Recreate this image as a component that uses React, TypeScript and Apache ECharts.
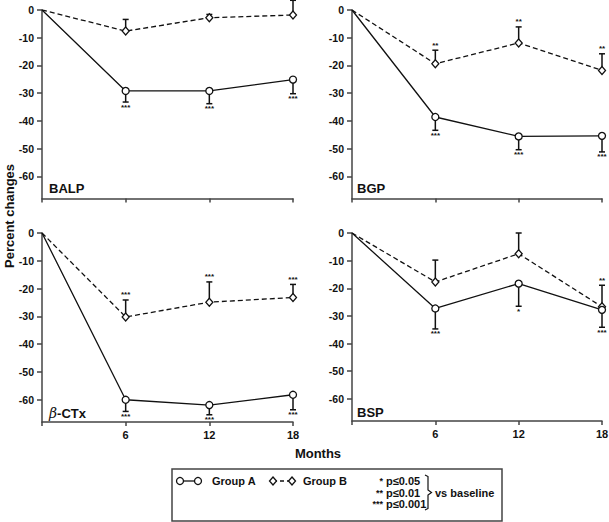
import React, { useEffect, useRef } from "react";
import * as echarts from "echarts";

const months = [0, 6, 12, 18];
const yTicks = [0, -10, -20, -30, -40, -50, -60];
const panelNames = ["BALP", "BGP", "β-CTx", "BSP"];

const balpA = [0, -29.2, -29.2, -25.1];
const balpAErr = [null, -33.2, -33.8, -30.2];
const balpAStars = ["", "***", "***", "***"];
const balpB = [0, -7.6, -2.8, -1.8];
const balpBErr = [null, -3.4, -1.6, 3.5];
const balpBStars = ["", "", "", ""];

const bgpA = [0, -38.6, -45.6, -45.4];
const bgpAErr = [null, -43.4, -50.4, -51.2];
const bgpAStars = ["", "***", "***", "***"];
const bgpB = [0, -19.4, -11.9, -21.8];
const bgpBErr = [null, -14.5, -6.1, -15.8];
const bgpBStars = ["", "**", "**", "**"];

const ctxA = [0, -60.0, -61.9, -58.2];
const ctxAErr = [null, -64.2, -65.4, -63.6];
const ctxAStars = ["", "***", "***", "***"];
const ctxB = [0, -30.2, -24.9, -23.2];
const ctxBErr = [null, -24.1, -17.6, -18.5];
const ctxBStars = ["", "***", "***", "***"];

const bspA = [0, -27.3, -18.3, -27.8];
const bspAErr = [null, -34.7, -26.5, -34.1];
const bspAStars = ["", "***", "*", "***"];
const bspB = [0, -17.7, -7.5, -26.7];
const bspBErr = [null, -9.8, 0, -18.9];
const bspBStars = ["", "", "", "**"];

const legendStars = ["*", "**", "***"];
const legendP = ["p≤0.05", "p≤0.01", "p≤0.001"];

const panels = [
  { a: balpA, aErr: balpAErr, aStars: balpAStars, b: balpB, bErr: balpBErr, bStars: balpBStars },
  { a: bgpA, aErr: bgpAErr, aStars: bgpAStars, b: bgpB, bErr: bgpBErr, bStars: bgpBStars },
  { a: ctxA, aErr: ctxAErr, aStars: ctxAStars, b: ctxB, bErr: ctxBErr, bStars: ctxBStars },
  { a: bspA, aErr: bspAErr, aStars: bspAStars, b: bspB, bErr: bspBErr, bStars: bspBStars },
];

const FONT = "'Liberation Sans', Arial, Helvetica, sans-serif";
const AXIS_COLOR = "#444";

const grids = [
  { left: 42, top: 10, width: 251, height: 188.5 },
  { left: 352, top: 10, width: 250, height: 188.5 },
  { left: 42, top: 233, width: 251, height: 189 },
  { left: 352, top: 233, width: 250, height: 188 },
];
const labelPos = [
  [49, 188],
  [357, 188],
  [49, 413],
  [357, 412],
];

function errRender(stars: string[]) {
  return (params: any, api: any) => {
    const err = api.value(2);
    if (err === null || err === undefined || isNaN(err)) return null;
    const p0 = api.coord([api.value(0), api.value(1)]);
    const p1 = api.coord([api.value(0), err]);
    const dir = p1[1] > p0[1] ? 1 : -1;
    const s = stars[params.dataIndex + 1] || "";
    return {
      type: "group",
      children: [
        { type: "line", shape: { x1: p0[0], y1: p0[1], x2: p1[0], y2: p1[1] }, style: { stroke: "#111", lineWidth: 1.5 } },
        { type: "line", shape: { x1: p1[0] - 3, y1: p1[1], x2: p1[0] + 3, y2: p1[1] }, style: { stroke: "#111", lineWidth: 1.5 } },
        {
          type: "text",
          style: {
            text: s,
            x: p1[0],
            y: p1[1] + dir * 5,
            fill: "#111",
            font: `bold 8px ${FONT}`,
            align: "center",
            verticalAlign: "middle",
          },
        },
      ],
    };
  };
}

export default function App() {
  const ref = useRef<HTMLDivElement>(null);
  useEffect(() => {
    document.body.style.margin = "0";
    if (!ref.current) return;
    const chart = echarts.init(ref.current, null, { renderer: "svg" });

    const series: any[] = [];
    panels.forEach((p, i) => {
      const lineData = (vals: number[]) =>
        months.map((m, k) => (k === 0 ? { value: [m, vals[k]], symbol: "none" } : { value: [m, vals[k]] }));
      const errData = (vals: number[], errs: (number | null)[]) =>
        months.slice(1).map((m, k) => [m, vals[k + 1], errs[k + 1]]);
      series.push({
        type: "custom",
        xAxisIndex: i,
        yAxisIndex: i,
        clip: false,
        z: 1,
        encode: { x: 0, y: 1 },
        data: errData(p.a, p.aErr),
        renderItem: errRender(p.aStars),
      });
      series.push({
        type: "custom",
        xAxisIndex: i,
        yAxisIndex: i,
        clip: false,
        z: 1,
        encode: { x: 0, y: 1 },
        data: errData(p.b, p.bErr),
        renderItem: errRender(p.bStars),
      });
      series.push({
        type: "line",
        name: "Group B",
        xAxisIndex: i,
        yAxisIndex: i,
        z: 3,
        data: lineData(p.b),
        symbol: "diamond",
        symbolSize: [7, 8],
        showAllSymbol: true,
        lineStyle: { color: "#111", width: 1.3, type: [5, 3] },
        itemStyle: { color: "#fff", borderColor: "#111", borderWidth: 1.3 },
      });
      series.push({
        type: "line",
        name: "Group A",
        xAxisIndex: i,
        yAxisIndex: i,
        z: 4,
        data: lineData(p.a),
        symbol: "circle",
        symbolSize: 7,
        showAllSymbol: true,
        lineStyle: { color: "#111", width: 1.3 },
        itemStyle: { color: "#fff", borderColor: "#111", borderWidth: 1.3 },
      });
    });

    const graphics: any[] = [];
    panelNames.forEach((n, i) => {
      if (n.startsWith("β")) {
        graphics.push({
          type: "text",
          x: labelPos[i][0],
          y: labelPos[i][1],
          style: {
            text: "{g|β}{t|-CTx}",
            verticalAlign: "middle",
            rich: {
              g: { font: `italic 14px 'DejaVu Serif', serif`, fill: "#111" },
              t: { font: `bold 13px ${FONT}`, fill: "#111" },
            },
          },
        });
      } else {
        graphics.push({
          type: "text",
          x: labelPos[i][0],
          y: labelPos[i][1],
          style: { text: n, font: `bold 13px ${FONT}`, fill: "#111", verticalAlign: "middle" },
        });
      }
    });
    graphics.push({
      type: "text",
      x: 9,
      y: 216,
      rotation: Math.PI / 2,
      style: { text: "Percent changes", font: `bold 13px ${FONT}`, fill: "#111", align: "center", verticalAlign: "middle" },
    });
    graphics.push({
      type: "text",
      x: 318,
      y: 453,
      style: { text: "Months", font: `bold 13px ${FONT}`, fill: "#111", align: "center", verticalAlign: "middle" },
    });
    // legend box
    const ly = 481;
    graphics.push({
      type: "rect",
      shape: { x: 172, y: 469, width: 330, height: 52 },
      style: { fill: "none", stroke: AXIS_COLOR, lineWidth: 1.5 },
    });
    graphics.push({ type: "line", shape: { x1: 180, y1: ly, x2: 198, y2: ly }, style: { stroke: "#111", lineWidth: 1.3 } });
    graphics.push({ type: "circle", shape: { cx: 180, cy: ly, r: 3.5 }, style: { fill: "#fff", stroke: "#111", lineWidth: 1.3 } });
    graphics.push({ type: "circle", shape: { cx: 198, cy: ly, r: 3.5 }, style: { fill: "#fff", stroke: "#111", lineWidth: 1.3 } });
    graphics.push({
      type: "text",
      x: 212,
      y: ly,
      style: { text: "Group A", font: `bold 11px ${FONT}`, fill: "#111", verticalAlign: "middle" },
    });
    graphics.push({ type: "line", shape: { x1: 273, y1: ly, x2: 292, y2: ly }, style: { stroke: "#111", lineWidth: 1.3, lineDash: [4, 3] } });
    [273, 292].forEach((cx) => {
      graphics.push({
        type: "polygon",
        shape: { points: [[cx, ly - 4], [cx + 3.5, ly], [cx, ly + 4], [cx - 3.5, ly]] },
        style: { fill: "#fff", stroke: "#111", lineWidth: 1.3 },
      });
    });
    graphics.push({
      type: "text",
      x: 303,
      y: ly,
      style: { text: "Group B", font: `bold 11px ${FONT}`, fill: "#111", verticalAlign: "middle" },
    });
    legendStars.forEach((s, k) => {
      const y = ly + k * 11.5;
      graphics.push({
        type: "text",
        x: 383,
        y: y,
        style: { text: s, font: `bold 9px ${FONT}`, fill: "#111", align: "right", verticalAlign: "middle" },
      });
      graphics.push({
        type: "text",
        x: 386,
        y: y,
        style: { text: legendP[k], font: `bold 11px ${FONT}`, fill: "#111", verticalAlign: "middle" },
      });
    });
    graphics.push({
      type: "polyline",
      shape: {
        points: [
          [425, 475],
          [428, 476.5],
          [428, 490],
          [431.5, 492.5],
          [428, 495],
          [428, 508.5],
          [425, 510],
        ],
      },
      style: { stroke: "#111", lineWidth: 1.2, fill: "none" },
    });
    graphics.push({
      type: "text",
      x: 435,
      y: ly + 11.5,
      style: { text: "vs baseline", font: `bold 11px ${FONT}`, fill: "#111", verticalAlign: "middle" },
    });

    const option: any = {
      animation: false,
      backgroundColor: "#fff",
      grid: grids.map((g) => ({ ...g, containLabel: false, outerBoundsMode: "none" })),
      xAxis: grids.map((_, i) => ({
        type: "value",
        gridIndex: i,
        min: 0,
        max: 18,
        interval: 6,
        splitLine: { show: false },
        axisLine: { show: true, onZero: false, lineStyle: { color: AXIS_COLOR, width: 1.5 } },
        axisTick: { show: true, length: 4, lineStyle: { color: AXIS_COLOR, width: 1.5 } },
        axisLabel: {
          show: i >= 2,
          margin: 7,
          color: "#111",
          fontWeight: "bold",
          fontSize: 11,
          fontFamily: FONT,
          formatter: (v: number) => (v === 0 ? "" : String(v)),
        },
      })),
      yAxis: grids.map((_, i) => ({
        type: "value",
        gridIndex: i,
        min: -68,
        max: 0,
        splitLine: { show: false },
        axisLine: { show: true, onZero: false, lineStyle: { color: AXIS_COLOR, width: 1.5 } },
        axisTick: { show: true, length: 5, customValues: yTicks, lineStyle: { color: AXIS_COLOR, width: 1.5 } },
        axisLabel: {
          customValues: yTicks,
          margin: 8,
          color: "#111",
          fontWeight: "bold",
          fontSize: 10.5,
          fontFamily: FONT,
        },
      })),
      series,
      graphic: graphics,
    };
    chart.setOption(option);
    return () => chart.dispose();
  }, []);
  return <div ref={ref} style={{ width: 609, height: 522 }} />;
}
